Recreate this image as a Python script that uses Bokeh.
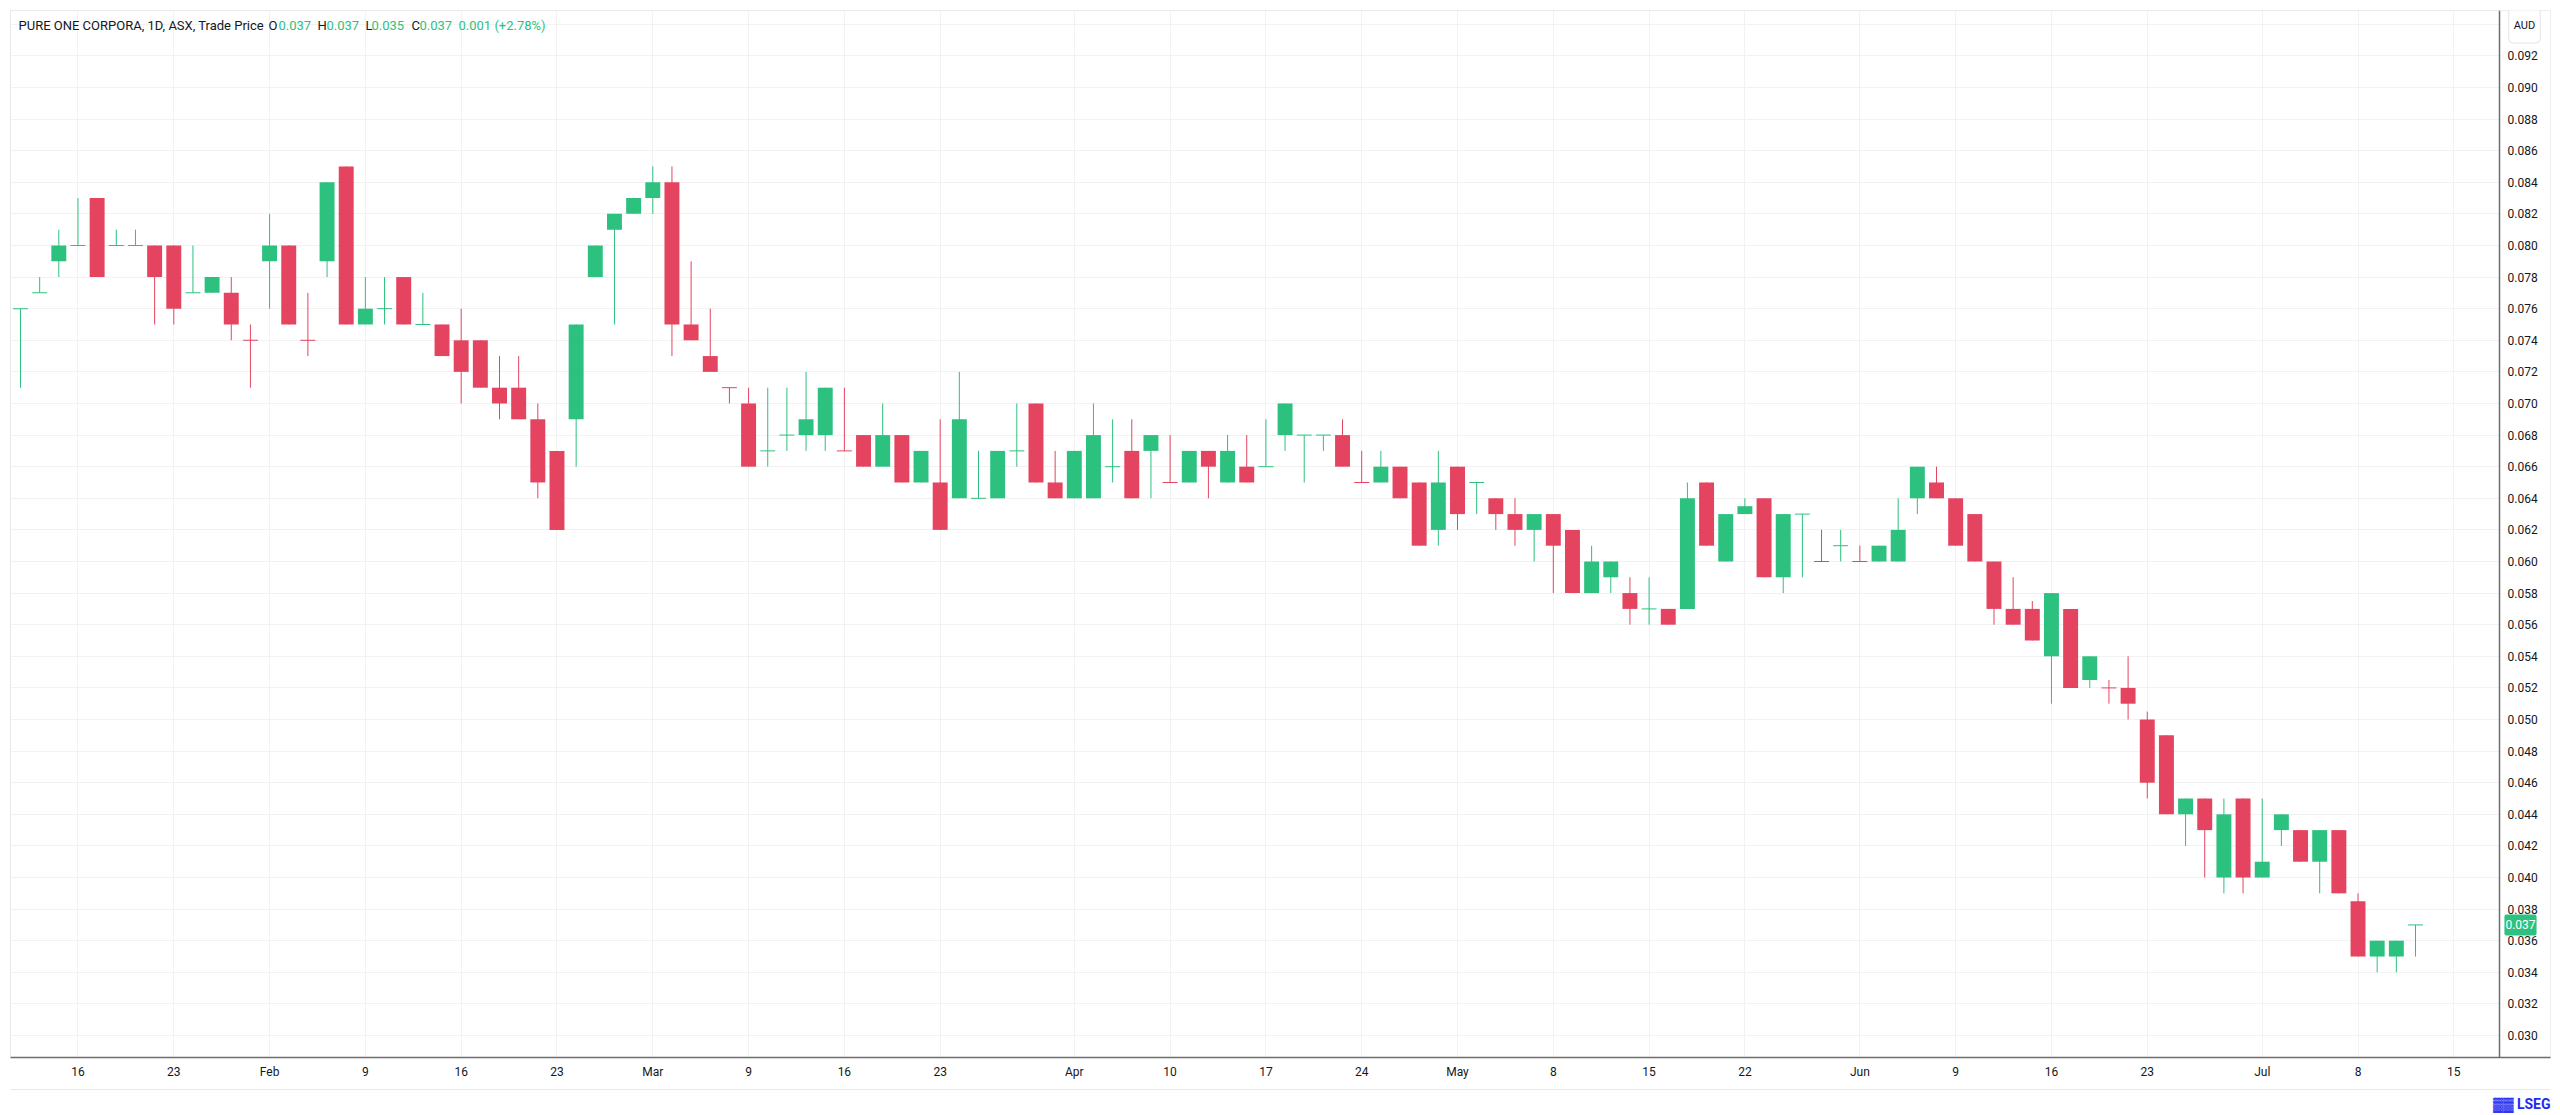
from bokeh.plotting import figure
from bokeh.models import (Range1d, FixedTicker, Label, ColumnDataSource,
                          NumeralTickFormatter, BoxAnnotation, Span, Title,
                          LinearAxis)
from bokeh.embed import file_html
from bokeh.resources import INLINE

# ---- data (daily OHLC, bar 1 .. bar 126) ----
opens = [0.076, 0.077, 0.079, 0.080, 0.083, 0.080, 0.080, 0.080, 0.080, 0.077,
         0.077, 0.077, 0.074, 0.079, 0.080, 0.074, 0.079, 0.085, 0.075, 0.076,
         0.078, 0.075, 0.075, 0.074, 0.074, 0.071, 0.071, 0.069, 0.067, 0.069,
         0.078, 0.081, 0.082, 0.083, 0.084, 0.075, 0.073, 0.071, 0.070, 0.067,
         0.068, 0.068, 0.068, 0.067, 0.068, 0.066, 0.068, 0.065, 0.065, 0.064,
         0.064, 0.064, 0.067, 0.070, 0.065, 0.064, 0.064, 0.066, 0.067, 0.067,
         0.065, 0.065, 0.067, 0.065, 0.066, 0.066, 0.068, 0.068, 0.068, 0.068,
         0.065, 0.065, 0.066, 0.065, 0.062, 0.066, 0.065, 0.064, 0.063, 0.062,
         0.063, 0.062, 0.058, 0.059, 0.058, 0.057, 0.057, 0.057, 0.065, 0.060,
         0.063, 0.064, 0.059, 0.063, 0.060, 0.061, 0.060, 0.060, 0.060, 0.064,
         0.065, 0.064, 0.063, 0.060, 0.057, 0.057, 0.054, 0.057, 0.0525, 0.052,
         0.052, 0.050, 0.049, 0.044, 0.045, 0.040, 0.045, 0.040, 0.043, 0.043,
         0.041, 0.043, 0.0385, 0.035, 0.035, 0.037]
highs = [0.076, 0.078, 0.081, 0.083, 0.083, 0.081, 0.081, 0.080, 0.080, 0.080,
         0.078, 0.078, 0.075, 0.082, 0.080, 0.077, 0.084, 0.085, 0.078, 0.078,
         0.078, 0.077, 0.075, 0.076, 0.074, 0.073, 0.073, 0.070, 0.067, 0.075,
         0.080, 0.082, 0.083, 0.085, 0.085, 0.079, 0.076, 0.071, 0.071, 0.071,
         0.071, 0.072, 0.071, 0.071, 0.068, 0.070, 0.068, 0.067, 0.069, 0.072,
         0.067, 0.067, 0.070, 0.070, 0.067, 0.067, 0.070, 0.069, 0.069, 0.068,
         0.068, 0.067, 0.067, 0.068, 0.068, 0.069, 0.070, 0.068, 0.068, 0.069,
         0.067, 0.067, 0.066, 0.065, 0.067, 0.066, 0.065, 0.064, 0.064, 0.063,
         0.063, 0.062, 0.061, 0.060, 0.059, 0.059, 0.057, 0.065, 0.065, 0.063,
         0.064, 0.064, 0.063, 0.063, 0.062, 0.062, 0.061, 0.061, 0.064, 0.066,
         0.066, 0.064, 0.063, 0.060, 0.059, 0.0575, 0.058, 0.057, 0.054, 0.0525,
         0.054, 0.0505, 0.049, 0.045, 0.045, 0.045, 0.045, 0.045, 0.044, 0.043,
         0.043, 0.043, 0.039, 0.036, 0.036, 0.037]
lows = [0.071, 0.077, 0.078, 0.080, 0.078, 0.080, 0.080, 0.075, 0.075, 0.077,
        0.077, 0.074, 0.071, 0.076, 0.075, 0.073, 0.078, 0.075, 0.075, 0.075,
        0.075, 0.075, 0.073, 0.070, 0.071, 0.069, 0.069, 0.064, 0.062, 0.066,
        0.078, 0.075, 0.082, 0.082, 0.073, 0.074, 0.072, 0.070, 0.066, 0.066,
        0.067, 0.067, 0.067, 0.067, 0.066, 0.066, 0.065, 0.065, 0.062, 0.064,
        0.064, 0.064, 0.066, 0.065, 0.064, 0.064, 0.064, 0.065, 0.064, 0.064,
        0.065, 0.065, 0.064, 0.065, 0.065, 0.066, 0.067, 0.065, 0.067, 0.066,
        0.065, 0.065, 0.064, 0.061, 0.061, 0.062, 0.063, 0.062, 0.061, 0.060,
        0.058, 0.058, 0.058, 0.058, 0.056, 0.056, 0.056, 0.057, 0.061, 0.060,
        0.063, 0.059, 0.058, 0.059, 0.060, 0.060, 0.060, 0.060, 0.060, 0.063,
        0.064, 0.061, 0.060, 0.056, 0.056, 0.055, 0.051, 0.052, 0.052, 0.051,
        0.050, 0.045, 0.044, 0.042, 0.040, 0.039, 0.039, 0.040, 0.042, 0.041,
        0.039, 0.039, 0.035, 0.034, 0.034, 0.035]
closes = [0.076, 0.077, 0.080, 0.080, 0.078, 0.080, 0.080, 0.078, 0.076, 0.077,
          0.078, 0.075, 0.074, 0.080, 0.075, 0.074, 0.084, 0.075, 0.076, 0.076,
          0.075, 0.075, 0.073, 0.072, 0.071, 0.070, 0.069, 0.065, 0.062, 0.075,
          0.080, 0.082, 0.083, 0.084, 0.075, 0.074, 0.072, 0.071, 0.066, 0.067,
          0.068, 0.069, 0.071, 0.067, 0.066, 0.068, 0.065, 0.067, 0.062, 0.069,
          0.064, 0.067, 0.067, 0.065, 0.064, 0.067, 0.068, 0.066, 0.064, 0.068,
          0.065, 0.067, 0.066, 0.067, 0.065, 0.066, 0.070, 0.068, 0.068, 0.066,
          0.065, 0.066, 0.064, 0.061, 0.065, 0.063, 0.065, 0.063, 0.062, 0.063,
          0.061, 0.058, 0.060, 0.060, 0.057, 0.057, 0.056, 0.064, 0.061, 0.063,
          0.0635, 0.059, 0.063, 0.063, 0.060, 0.061, 0.060, 0.061, 0.062, 0.066,
          0.064, 0.061, 0.060, 0.057, 0.056, 0.055, 0.058, 0.052, 0.054, 0.052,
          0.051, 0.046, 0.044, 0.045, 0.043, 0.044, 0.040, 0.041, 0.044, 0.041,
          0.043, 0.039, 0.035, 0.036, 0.036, 0.037]
# bars whose open equals close and that are drawn in the falling colour
red_doji = [13, 16, 38, 44, 61, 71, 95, 97, 110]

# date axis: bar number of each tick and its label
tick_bars = [4, 9, 14, 19, 24, 29, 34, 39, 44, 49, 56, 61, 66, 71, 76, 81, 86,
             91, 97, 102, 107, 112, 118, 123, 128]
tick_labels = ["16", "23", "Feb", "9", "16", "23", "Mar", "9", "16", "23", "Apr",
               "10", "17", "24", "May", "8", "15", "22", "Jun", "9", "16", "23",
               "Jul", "8", "15"]
price_ticks = [0.030, 0.032, 0.034, 0.036, 0.038, 0.040, 0.042, 0.044, 0.046,
               0.048, 0.050, 0.052, 0.054, 0.056, 0.058, 0.060, 0.062, 0.064,
               0.066, 0.068, 0.070, 0.072, 0.074, 0.076, 0.078, 0.080, 0.082,
               0.084, 0.086, 0.088, 0.090, 0.092]
grid_ticks = price_ticks + [0.094]

symbol_text = "PURE ONE CORPORA, 1D, ASX, Trade Price"
currency = "AUD"
brand = "LSEG"

# ---- styling / layout ----
UP = "#2DC17F"
DOWN = "#E4445F"
TXT = "#131722"
GRID = "#F2F2F2"
AXIS = "#6E6E6E"
BORDER = "#E9E9E9"
FONT = "Roboto"
BAR_PX = 19.16          # pixels per bar
FRAME_W = 2540          # frame includes the price-scale strip
X0 = 0.478
X1 = X0 + FRAME_W / BAR_PX
SCALE_EDGE = X0 + 2489 / BAR_PX   # where the price scale strip begins

n = len(opens)
bars = list(range(1, n + 1))
colors = []
for i in range(n):
    if closes[i] > opens[i]:
        colors.append(UP)
    elif closes[i] < opens[i]:
        colors.append(DOWN)
    else:
        colors.append(DOWN if (i + 1) in red_doji else UP)

src = ColumnDataSource(dict(
    x=bars, o=opens, h=highs, l=lows, c=closes,
    top=[max(a, b) for a, b in zip(opens, closes)],
    bottom=[min(a, b) for a, b in zip(opens, closes)],
    color=colors))
doji_idx = [i for i in range(n) if opens[i] == closes[i]]
dsrc = ColumnDataSource(dict(
    x=[bars[i] for i in doji_idx], y=[closes[i] for i in doji_idx],
    color=[colors[i] for i in doji_idx]))

p = figure(frame_width=FRAME_W, frame_height=1047,
           x_range=Range1d(X0, X1), y_range=Range1d(0.02861, 0.09487),
           y_axis_location="right", output_backend="svg", toolbar_location=None,
           min_border_left=10, min_border_top=10, min_border_right=0,
           min_border_bottom=50, background_fill_color="white",
           border_fill_color="white")
p.outline_line_color = BORDER

p.xgrid.ticker = FixedTicker(ticks=tick_bars)
p.ygrid.ticker = FixedTicker(ticks=grid_ticks)
p.xgrid.grid_line_color = GRID
p.ygrid.grid_line_color = GRID

# blank price-scale strip (hides grid there)
p.add_layout(BoxAnnotation(left=SCALE_EDGE, fill_color="white", fill_alpha=1.0,
                           line_color=None, level="underlay"))

p.segment(x0="x", y0="l", x1="x", y1="h", source=src, line_color="color",
          line_width=1)
p.vbar(x="x", width=0.78, top="top", bottom="bottom", source=src,
       fill_color="color", line_color=None)
p.rect(x="x", y="y", width=0.78, height=1, height_units="screen", source=dsrc,
       fill_color="color", line_color=None)

# price-scale border line
p.add_layout(Span(location=SCALE_EDGE, dimension="height", line_color=AXIS,
                  line_width=1.5))

# axes
xax = p.xaxis[0]
xax.ticker = FixedTicker(ticks=tick_bars)
xax.major_label_overrides = {b: t for b, t in zip(tick_bars, tick_labels)}
p.yaxis.ticker = FixedTicker(ticks=price_ticks)
p.yaxis.formatter = NumeralTickFormatter(format="0.000")
for ax in (xax, p.yaxis[0]):
    ax.major_tick_line_color = None
    ax.minor_tick_line_color = None
    ax.major_tick_out = 0
    ax.major_tick_in = 0
    ax.major_label_text_font = FONT
    ax.major_label_text_font_size = "12px"
    ax.major_label_text_color = TXT
xax.axis_line_color = AXIS
xax.axis_line_width = 1.5
xax.major_label_standoff = 7
xax.axis_label = " "
xax.axis_label_standoff = 0
xax.axis_label_text_font_size = "4px"
p.yaxis.axis_line_color = None
p.yaxis.major_label_standoff = -43
p.yaxis.axis_label = " "
p.yaxis.axis_label_standoff = 0
p.yaxis.axis_label_text_font_size = "12px"

# bottom edge of the chart pane (a bare axis line under the time scale)
edge = LinearAxis(ticker=FixedTicker(ticks=[]), axis_line_color=BORDER,
                  major_tick_line_color=None, minor_tick_line_color=None,
                  major_label_text_font_size="0px")
p.add_layout(edge, "below")

# legend-style header
chg = closes[-1] - closes[-2]
pct = chg / closes[-2] * 100
pieces = [
    (8, symbol_text, TXT),
    (258, "O", TXT), (268, f"{opens[-1]:.3f}", UP),
    (307, "H", TXT), (316, f"{highs[-1]:.3f}", UP),
    (355, "L", TXT), (361, f"{lows[-1]:.3f}", UP),
    (401, "C", TXT), (409, f"{closes[-1]:.3f}", UP),
    (448, f"{chg:.3f} ({pct:+.2f}%)", UP),
]
for xs, t, col in pieces:
    p.add_layout(Label(x=xs, y=1032, x_units="screen", y_units="screen", text=t,
                       text_font=FONT, text_font_size="13px", text_color=col,
                       text_baseline="middle"))

# currency box above the price scale
p.add_layout(Label(x=2514, y=1032, x_units="screen", y_units="screen",
                   text=currency, text_font=FONT, text_font_size="11px",
                   text_color=TXT, text_align="center", text_baseline="middle",
                   background_fill_color="white", border_line_color="#E0E3EB",
                   padding=(5, 11), border_radius=4))
# last price marker
p.add_layout(Label(x=2510, y=closes[-1], x_units="screen", y_units="data",
                   text=f"{closes[-1]:.3f}", text_font=FONT,
                   text_font_size="12px", text_color="white", text_align="center",
                   text_baseline="middle", background_fill_color=UP,
                   padding=(1, 6), border_radius=2))
# LSEG mark under the time scale
p.add_layout(Title(text="▓▓ " + brand, align="right", text_font=FONT,
                   text_font_size="14px", text_font_style="bold",
                   text_color="#1E2BF0", standoff=8), "below")

open("out.html", "w").write(file_html(p, INLINE))
